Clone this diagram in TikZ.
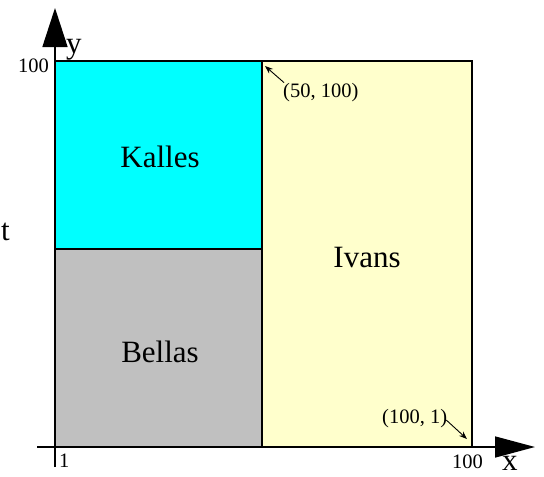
\documentclass[tikz,border=0pt]{standalone}
\usepackage{fontspec}
\setmainfont{Liberation Serif}
\usetikzlibrary{arrows.meta}
\definecolor{kcyan}{HTML}{00FFFF}
\definecolor{bgray}{HTML}{C0C0C0}
\definecolor{iyellow}{HTML}{FFFFCC}
\tikzset{
  region/.style={draw=black, line width=1.6pt},
  axis/.style={draw=black, line width=1.6pt},
  big/.style={inner sep=0pt, font=\fontsize{31}{36}\selectfont},
  small/.style={inner sep=0pt, font=\fontsize{20.5}{24}\selectfont},
  pointer/.style={draw=black, line width=0.9pt, -{Stealth[length=8pt,width=6pt]}}
}
\begin{document}
\begin{tikzpicture}[x=1pt,y=-1pt]
\useasboundingbox (0,0) rectangle (544,477);
% regions
\fill[kcyan] (55,61) rectangle (262,249);
\fill[bgray] (55,249) rectangle (262,447);
\fill[iyellow] (262,61) rectangle (472,447);
\draw[region] (55,61) rectangle (472,447);
\draw[region] (262,61) -- (262,447);
\draw[region] (55,249) -- (262,249);
% axes
\coordinate (yb) at (55,467);
\coordinate (yt) at (55,8);
\coordinate (xb) at (37,447);
\coordinate (xt) at (535,447);
\draw[axis, -{Triangle[length=39pt,width=25pt]}] (yb) -- (yt);
\draw[axis, -{Triangle[length=40pt,width=21pt]}] (xb) -- (xt);
% labels
\node[big, anchor=base] (kalles) at (160,167) {Kalles};
\node[big, anchor=base] (bellas) at (160,362) {Bellas};
\node[big, anchor=base] (ivans) at (367,267) {Ivans};
\node[big, anchor=base west] (ylab) at (66,53) {y};
\node[big, anchor=base west] (xlab) at (502,470) {x};
\node[big, anchor=base east] (tlab) at (10,240) {t};
\node[small, anchor=base east] (y100) at (49,72) {100};
\node[small, anchor=base west] (x1) at (59,467) {1};
\node[small, anchor=base west] (x100) at (452,468) {100};
\node[small, anchor=base west] (p1) at (283,97) {(50, 100)};
\node[small, anchor=base west] (p2) at (382,423) {(100, 1)};
\coordinate (c1) at (265,66);
\coordinate (c2) at (467,439);
\draw[pointer] (p1.north west) ++(1,0) -- (c1);
\draw[pointer] (p2.east) ++(-1,2) -- (c2);
\end{tikzpicture}
\end{document}
